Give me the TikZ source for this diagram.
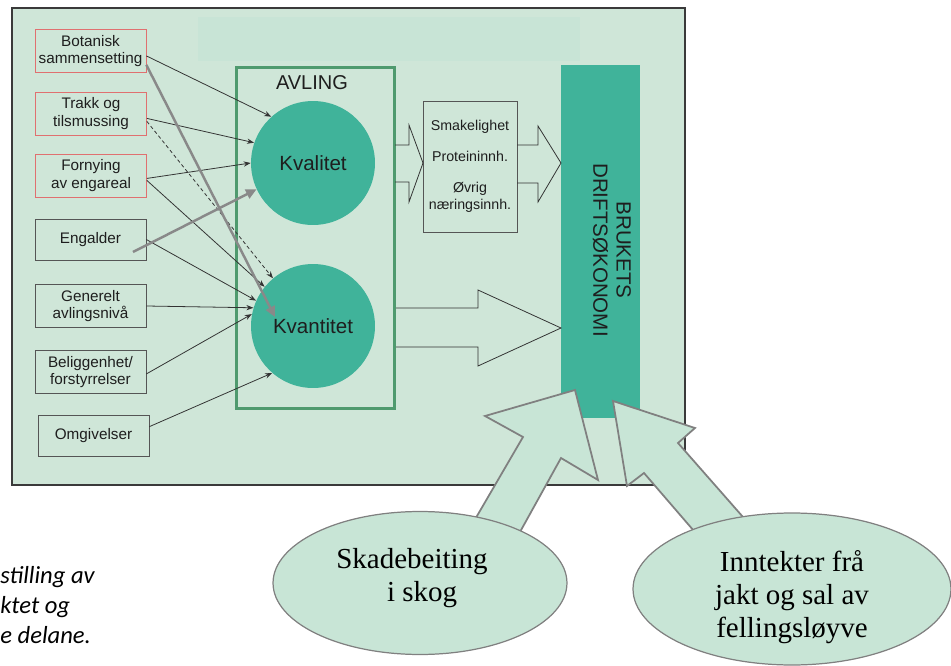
\documentclass[tikz,border=0pt]{standalone}
\usepackage{fontspec}
\setmainfont{Liberation Serif}
\setsansfont{Liberation Sans}
\newfontfamily\capfont{Carlito}
\usetikzlibrary{arrows.meta, shapes.geometric}

\definecolor{mintbg}{HTML}{CFE6D8}
\definecolor{mintlys}{HTML}{C8E4D6}
\definecolor{cropteal}{HTML}{40B39A}
\definecolor{boxgreen}{HTML}{4F9A6E}
\definecolor{redline}{HTML}{E07070}
\definecolor{boxgray}{HTML}{555555}
\definecolor{framegray}{HTML}{3A3A3A}
\definecolor{linegray}{HTML}{333333}
\definecolor{thickgray}{HTML}{898989}
\definecolor{bobfill}{HTML}{C8E5D6}
\definecolor{bobline}{HTML}{808080}
\definecolor{textdark}{HTML}{1E1E1E}

\tikzset{
    faktor/.style={draw=boxgray, fill=mintbg, text=textdark, minimum width=2.22cm, minimum height=0.86cm,
        align=center, inner sep=1pt, font=\sffamily\fontsize{8.7}{9.8}\selectfont},
    faktorrod/.style={faktor, draw=redline},
    sirkel/.style={circle, fill=cropteal, text=textdark, minimum size=2.48cm, inner sep=0pt,
        font=\sffamily\fontsize{11.7}{14}\selectfont},
    pil/.style={draw=linegray, line width=0.45pt, -{Stealth[length=4pt,width=3pt]}},
    tjukkpil/.style={draw=thickgray, line width=1.4pt, -{Triangle[length=6pt,width=5.5pt]}},
    blokkpil/.style={draw=linegray, line width=0.45pt},
    boblepil/.style={draw=bobline, fill=bobfill, line width=1pt, line join=miter},
    boble/.style={ellipse, draw=bobline, fill=bobfill, line width=0.7pt, inner sep=0pt},
    bobletekst/.style={align=center, inner sep=0pt, font=\fontsize{16.5}{18.7}\selectfont}
}

\begin{document}
\begin{tikzpicture}[x=0.02cm, y=-0.02cm]
    \useasboundingbox (0,0) rectangle (951,666);

    % ramme
    \node (ramme) [draw=framegray, line width=1.2pt, fill=mintbg, minimum width=13.46cm, minimum height=9.54cm] at (348.5,246.5) {};
    \node (tittel) [fill=mintlys, minimum width=7.64cm, minimum height=0.88cm] at (389,39) {};

    % faktorar
    \node (bot)  [faktorrod] at (90.5,51)   {Botanisk\\sammensetting};
    \node (trk)  [faktorrod] at (91,113.5)  {Trakk og\\tilsmussing};
    \node (forn) [faktorrod] at (91,175.5)  {Fornying\\av engareal};
    \node (eng)  [faktor, minimum height=0.82cm] at (90.5,239.5) {Engalder};
    \node (gen)  [faktor] at (90.5,306)   {Generelt\\avlingsnivå};
    \node (bel)  [faktor] at (90.5,372)   {Beliggenhet/\\forstyrrelser};
    \node (omg)  [faktor, minimum height=0.82cm] at (93.5,435.5) {Omgivelser};

    % avling
    \node (avl) [draw=boxgreen, line width=1.7pt, minimum width=3.18cm, minimum height=6.84cm] at (315.5,238) {};
    \node (avltxt) [text=textdark, font=\sffamily\fontsize{11.4}{13}\selectfont] at (312,83) {AVLING};
    \node (kval) [sirkel] at (313,163) {Kvalitet};
    \node (kvan) [sirkel] at (313,326) {Kvantitet};

    % eigenskapar
    \node (egensk) [draw=boxgray, fill=mintbg, text=textdark, minimum width=1.88cm, minimum height=2.62cm, align=center,
        inner sep=0pt, font=\sffamily\fontsize{8.1}{9.6}\selectfont] at (470,166.5)
        {Smakelighet\\[8pt]Proteininnh.\\[8pt]Øvrig\\næringsinnh.};

    % driftsokonomi
    \node (bruk) [fill=cropteal, minimum width=1.58cm, minimum height=7.06cm] at (600.5,241.5) {};
    \node (bruktxt) [rotate=-90, align=center, text=textdark, font=\sffamily\fontsize{11.7}{13.2}\selectfont] at (612,250)
        {BRUKETS\\DRIFTSØKONOMI};

    % blokkpiler
    \draw[blokkpil] (395,145) -- (409,145) -- (409,125) -- (423,163) -- (409,202) -- (409,182) -- (395,182);
    \draw[blokkpil] (517,145) -- (538,145) -- (538,126) -- (561,163) -- (538,202) -- (538,183) -- (517,183);
    \draw[blokkpil] (396,308) -- (478,308) -- (478,290) -- (561,328) -- (478,366) -- (478,347) -- (396,347);

    % piler
    \draw[pil] (bot.-5) -- (kval.132);
    \draw[pil] (trk.-5) -- (kval.161);
    \draw[pil, dash pattern=on 2pt off 1.5pt] (trk.-8) -- (kvan.130);
    \draw[pil] (forn.-3) -- (kval.180);
    \draw[pil] (forn.-5) -- (kvan.141);
    \draw[pil] (eng.east) -- (kvan.156);
    \draw[pil] (gen.east) -- (kvan.163);
    \draw[pil] (bel.-2) -- (kvan.169);
    \draw[pil] (omg.9) -- (kvan.229);

    \coordinate (engut) at (133,252);
    \coordinate (kvanin) at (275,317);
    \draw[tjukkpil] (bot.-14) -- (kvanin);
    \draw[tjukkpil] (engut) -- (kval.205);

    % bobler
    \draw[boblepil] (575,390) -- (598,480) -- (561,458) -- (515,541) -- (470,528) -- (523,437) -- (485,416) -- cycle;
    \draw[boblepil] (613,401) -- (627,486) -- (644,473) -- (700,538) -- (750,525) -- (678,443) -- (695,428) -- cycle;
    \node (skade) [boble, minimum width=5.88cm, minimum height=2.86cm] at (420,583) {};
    \node (jakt)  [boble, minimum width=6.36cm, minimum height=3.04cm] at (792,589) {};
    \node (skadetxt) [bobletekst] at (412,578) {Skadebeiting\\\hspace*{0.7em}i skog};
    \node (jakttxt)  [bobletekst] at (792,597) {Inntekter frå\\jakt og sal av\\fellingsløyve};

    % tekst
    \node (figtekst) [anchor=north west, align=left, inner sep=0pt, font=\capfont\itshape\fontsize{14}{17}\selectfont]
        at (0,566) {stilling av\\ktet og\\e delane.};
\end{tikzpicture}
\end{document}
